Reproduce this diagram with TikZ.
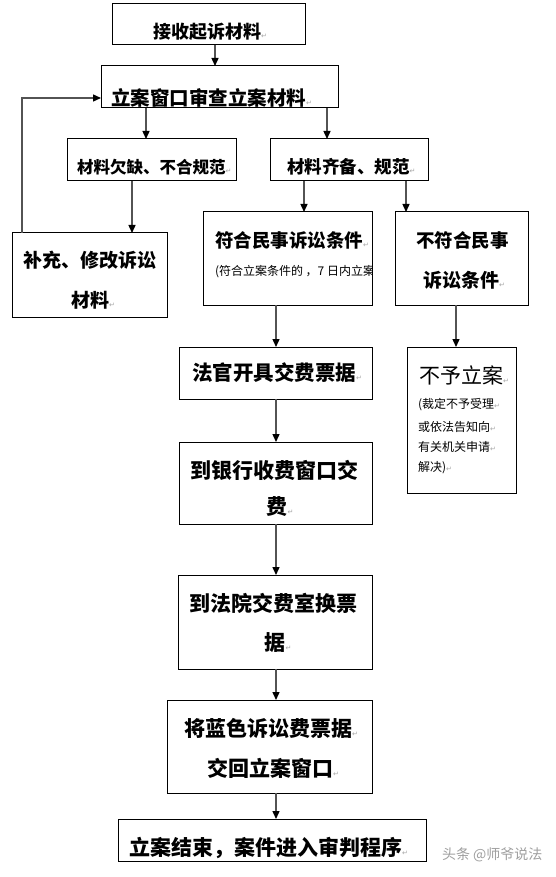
\documentclass[tikz,border=0pt]{standalone}
\usepackage{fontspec}
\setmainfont{Noto Sans CJK SC}
\newfontfamily\symfont{DejaVu Sans}
\usetikzlibrary{arrows.meta}
\newcommand\retmark{\textcolor{gray!70}{\normalfont\symfont\fontsize{7}{7}\selectfont ↵}}
\newcommand\fsz[1]{\fontsize{#1}{#1}\selectfont}
\begin{document}
\begin{tikzpicture}[x=1pt,y=-1pt,
  box/.style={draw=black,line width=1pt,inner sep=0pt,outer sep=0pt},
  txt/.style={anchor=west,inner sep=0pt,outer sep=0pt},
  arr/.style={draw=gray!65!black,line width=1.4pt,-{Triangle[length=8pt,width=7pt,color=black]}}]
\fill[white] (0,0) rectangle (556,877);
\useasboundingbox (0,0) rectangle (556,877);

% boxes
\node[box,minimum width=193pt,minimum height=41pt] (b1) at (208.5,24.5) {};
\node[box,minimum width=237pt,minimum height=42pt] (b2) at (219.5,87) {};
\node[box,minimum width=169pt,minimum height=42pt] (b3) at (151.5,160) {};
\node[box,minimum width=158pt,minimum height=42pt] (b4) at (349,160) {};
\node[box,minimum width=155pt,minimum height=84pt] (b5) at (89.5,275) {};
\node[box,minimum width=169pt,minimum height=93pt] (b6) at (287.5,258.5) {};
\node[box,minimum width=133pt,minimum height=93pt] (b7) at (461.5,258.5) {};
\node[box,minimum width=193pt,minimum height=52pt] (b8) at (275.5,373) {};
\node[box,minimum width=109pt,minimum height=146pt] (b9) at (461.5,420) {};
\node[box,minimum width=193pt,minimum height=82pt] (b10) at (275.5,483) {};
\node[box,minimum width=194pt,minimum height=94pt] (b11) at (275,622) {};
\node[box,minimum width=205pt,minimum height=93pt] (b12) at (269.5,746.5) {};
\node[box,minimum width=308pt,minimum height=42pt] (b13) at (272,840) {};

% texts
\node[txt,font=\bfseries\fsz{18}] (t1) at (153,32) {接收起诉材料\retmark};
\node[txt,font=\bfseries\fsz{19.5}] (t2) at (111,98) {立案窗口审查立案材料\retmark};
\node[txt,font=\bfseries\fsz{16.5}] (t3) at (77,167) {材料欠缺、不合规范\retmark};
\node[txt,font=\bfseries\fsz{17.5}] (t4) at (287,167) {材料齐备、规范\retmark};
\node[txt,font=\bfseries\fsz{19}] (t5a) at (23,260) {补充、修改诉讼};
\node[txt,font=\bfseries\fsz{19}] (t5b) at (71,300) {材料\retmark};
\node[txt,font=\bfseries\fsz{18.5}] (t6a) at (215,240) {符合民事诉讼条件\retmark};
\begin{scope}
\clip (b6.south west) rectangle (b6.north east);
\node[txt,font=\fsz{12}] (t6b) at (215,272) {(符合立案条件的 ，7 日内立案};
\end{scope}
\node[txt,font=\bfseries\fsz{18.5}] (t7a) at (416,240) {不符合民事};
\node[txt,font=\bfseries\fsz{19}] (t7b) at (423,280) {诉讼条件\retmark};
\node[txt,font=\bfseries\fsz{20.5}] (t8) at (192,373) {法官开具交费票据\retmark};
\node[txt,font=\fsz{21}] (t9a) at (419,375) {不予立案\retmark};
\node[txt,font=\fsz{12}] (t9b) at (418,405) {(裁定不予受理\retmark};
\node[txt,font=\fsz{12}] (t9c) at (418,427) {或依法告知向\retmark};
\node[txt,font=\fsz{12}] (t9d) at (418,447) {有关机关申请\retmark};
\node[txt,font=\fsz{12}] (t9e) at (418,468) {解决)\retmark};
\node[txt,font=\bfseries\fsz{21}] (t10a) at (190,470) {到银行收费窗口交};
\node[txt,font=\bfseries\fsz{21}] (t10b) at (266.5,507) {费\retmark};
\node[txt,font=\bfseries\fsz{21}] (t11a) at (189,603) {到法院交费室换票};
\node[txt,font=\bfseries\fsz{21}] (t11b) at (264.5,643) {据\retmark};
\node[txt,font=\bfseries\fsz{21}] (t12a) at (184,728) {将蓝色诉讼费票据\retmark};
\node[txt,font=\bfseries\fsz{21}] (t12b) at (207,768) {交回立案窗口\retmark};
\node[txt,font=\bfseries\fsz{21}] (t13) at (129,848) {立案结束，案件进入审判程序\retmark};
\node[txt,font=\fsz{14},text=gray!75] (wm) at (442,855) {头条 @师爷说法};

% columns
\coordinate (c215) at (215,0);
\coordinate (c146) at (146,0);
\coordinate (c327) at (327,0);
\coordinate (c304) at (304,0);
\coordinate (c406) at (406,0);
\coordinate (c132) at (132,0);
\coordinate (c276) at (276,0);
\coordinate (c456) at (456,0);
\coordinate (fb) at (22,98);

% connectors
\draw[arr] (b1.south -| c215) -- (b2.north -| c215);
\draw[arr] (b2.south -| c146) -- (b3.north -| c146);
\draw[arr] (b2.south -| c327) -- (b4.north -| c327);
\draw[arr] (b4.south -| c304) -- (b6.north -| c304);
\draw[arr] (b4.south -| c406) -- (b7.north -| c406);
\draw[arr] (b3.south -| c132) -- (b5.north -| c132);
\draw[arr] (b6.south -| c276) -- (b8.north -| c276);
\draw[arr] (b8.south -| c276) -- (b10.north -| c276);
\draw[arr] (b10.south -| c276) -- (b11.north -| c276);
\draw[arr] (b11.south -| c276) -- (b12.north -| c276);
\draw[arr] (b12.south -| c276) -- (b13.north -| c276);
\draw[arr] (b7.south -| c456) -- (b9.north -| c456);
\draw[arr] (b5.north -| fb) -- (fb) -- (b2.west |- fb);
\end{tikzpicture}
\end{document}
